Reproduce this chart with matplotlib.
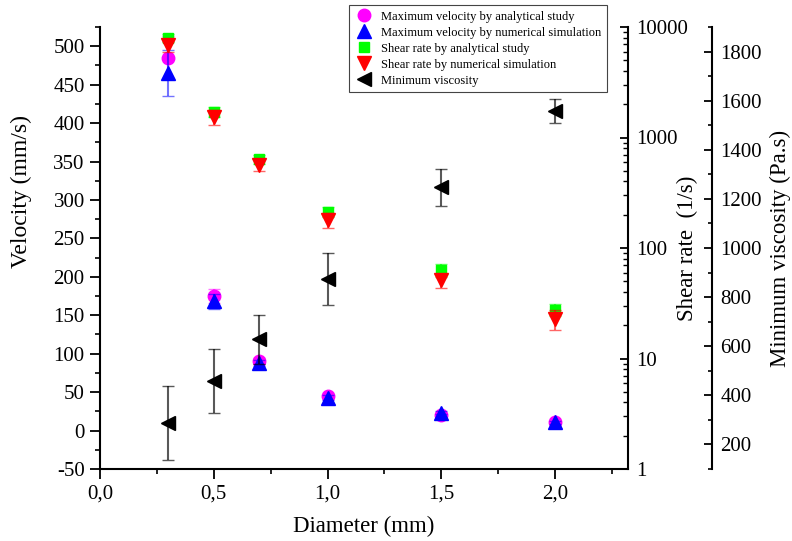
import matplotlib
matplotlib.use("Agg")
import matplotlib.pyplot as plt
from matplotlib.ticker import FuncFormatter, MultipleLocator, LogLocator, NullFormatter

plt.rcParams['font.family'] = ['Liberation Serif', 'DejaVu Serif']
plt.rcParams['axes.unicode_minus'] = False

diameter = [0.3, 0.5, 0.7, 1.0, 1.5, 2.0]

vel_analytical = [485, 175, 90, 45, 20, 11]
vel_analytical_err = [28, 9, 4, 3, 2, 2]
vel_numerical = [465, 168, 88, 43, 23, 11]
vel_numerical_err = [30, 10, 4, 3, 2, 2]

shear_analytical = [7950, 1700, 640, 212, 63, 27.5]
shear_analytical_err = [700, 170, 60, 22, 8, 3.5]
shear_numerical = [6870, 1535, 565, 179, 51, 22.8]
shear_numerical_err = [900, 230, 70, 27, 7.5, 4.8]

viscosity = [288, 458, 628, 874, 1248, 1558]
viscosity_err = [150, 130, 100, 105, 75, 48]

fig = plt.figure(figsize=(7.92, 5.41), dpi=100)
ax = fig.add_axes([100/792, 72/541, 528/792, 442/541])
ax2 = ax.twinx()
ax3 = ax.twinx()
ax3.spines['right'].set_position(('outward', 84 * 72 / 100))

for a in (ax, ax2, ax3):
    a.patch.set_visible(False)
    a.spines['top'].set_visible(False)
for a in (ax2, ax3):
    a.spines['left'].set_visible(False)
    a.spines['bottom'].set_visible(False)
ax.spines['right'].set_visible(False)

cap = 4
# Velocity
ax.errorbar(diameter, vel_analytical, yerr=vel_analytical_err, fmt='none',
            ecolor='#ff00ff', alpha=0.55, capsize=cap, elinewidth=1.5)
h1, = ax.plot(diameter, vel_analytical, 'o', color='#ff00ff', ms=9, ls='none',
              label='Maximum velocity by analytical study')
ax.errorbar(diameter, vel_numerical, yerr=vel_numerical_err, fmt='none',
            ecolor='#0000ff', alpha=0.55, capsize=cap, elinewidth=1.5)
h2, = ax.plot(diameter, vel_numerical, '^', color='#0000ff', ms=9.5, ls='none',
              label='Maximum velocity by numerical simulation')

# Shear rate
ax2.errorbar(diameter, shear_analytical, yerr=shear_analytical_err, fmt='none',
             ecolor='#00ff00', alpha=0.6, capsize=cap, elinewidth=1.5)
h3, = ax2.plot(diameter, shear_analytical, 's', color='#00ff00', ms=7.5, ls='none',
               label='Shear rate by analytical study')
ax2.errorbar(diameter, shear_numerical, yerr=shear_numerical_err, fmt='none',
             ecolor='#ff0000', alpha=0.6, capsize=cap, elinewidth=1.5)
h4, = ax2.plot(diameter, shear_numerical, 'v', color='#ff0000', ms=9.5, ls='none',
               label='Shear rate by numerical simulation')

# Viscosity
ax3.errorbar(diameter, viscosity, yerr=viscosity_err, fmt='none',
             ecolor='black', alpha=0.65, capsize=cap, elinewidth=1.5)
h5, = ax3.plot(diameter, viscosity, '<', color='black', ms=10, ls='none',
               label='Minimum viscosity')

# Axes limits and ticks
ax.set_xlim(0, 2.32)
ax.set_ylim(-50, 525)
ax.xaxis.set_major_locator(MultipleLocator(0.5))
ax.xaxis.set_minor_locator(MultipleLocator(0.25))
ax.xaxis.set_major_formatter(FuncFormatter(lambda v, p: f"{v:.1f}".replace('.', ',')))
ax.yaxis.set_major_locator(MultipleLocator(50))
ax.yaxis.set_minor_locator(MultipleLocator(25))

ax2.set_yscale('log')
ax2.set_ylim(1, 10000)
ax2.yaxis.set_major_locator(LogLocator(base=10, numticks=10))
ax2.yaxis.set_minor_locator(LogLocator(base=10, subs=range(2, 10), numticks=50))
ax2.yaxis.set_minor_formatter(NullFormatter())
ax2.yaxis.set_major_formatter(FuncFormatter(lambda v, p: f"{int(round(v))}"))

ax3.set_ylim(100, 1900)
ax3.yaxis.set_major_locator(MultipleLocator(200))
ax3.yaxis.set_minor_locator(MultipleLocator(100))

for a in (ax, ax2, ax3):
    for s in a.spines.values():
        s.set_linewidth(1.5)

ax.tick_params(axis='both', which='major', direction='out', length=7, width=1.3, labelsize=15, pad=4)
ax.tick_params(axis='both', which='minor', direction='out', length=3.6, width=1.2)
ax2.tick_params(axis='y', which='major', direction='in', length=6, width=1.3, labelsize=15, pad=6)
ax2.tick_params(axis='y', which='minor', direction='in', length=3.5, width=1.0)
ax3.tick_params(axis='y', which='major', direction='in', length=5.5, width=1.3, labelsize=15, pad=6)
ax3.tick_params(axis='y', which='minor', direction='in', length=3, width=1.2)

ax.set_xlabel('Diameter (mm)', fontsize=16.5, labelpad=9)
ax.set_ylabel('Velocity (mm/s)', fontsize=17)
ax.yaxis.set_label_coords(-0.128, 0.627)
ax2.set_ylabel('Shear rate  (1/s)', fontsize=16.5, labelpad=-8)
ax3.set_ylabel('Minimum viscosity (Pa.s)', fontsize=16.5, labelpad=6)

leg = fig.legend(handles=[h1, h2, h3, h4, h5], loc='upper right',
                 bbox_to_anchor=(607/792, 1 - 5/541), fontsize=9,
                 fancybox=False, framealpha=1, edgecolor='#444444',
                 handletextpad=0.6, borderpad=0.45, labelspacing=0.32,
                 handlelength=1.5, borderaxespad=0, markerscale=1.0)
leg.get_frame().set_linewidth(0.8)

fig.savefig('out.png', dpi=100)
